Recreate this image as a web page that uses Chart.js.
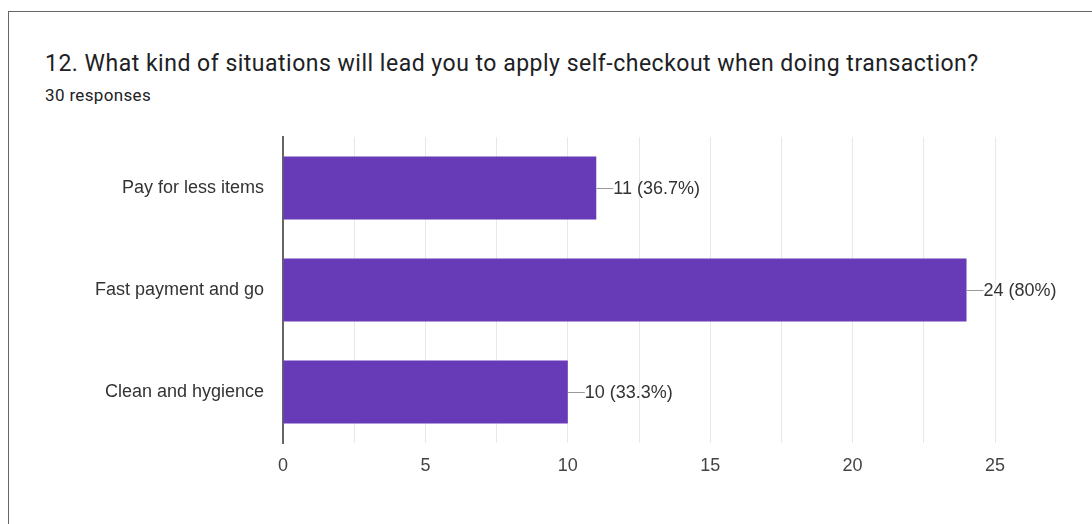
<!DOCTYPE html>
<html><head><meta charset="utf-8">
<script src="https://cdn.jsdelivr.net/npm/chart.js@4"></script>
<style>
html,body{margin:0;padding:0;background:#fff;width:1092px;height:524px;overflow:hidden;font-family:Roboto,sans-serif;}
#frame{position:absolute;left:8px;top:11px;width:1200px;height:600px;border-left:1.5px solid #666;border-top:1.5px solid #666;}
#title{position:absolute;left:45px;top:50px;font-size:23px;letter-spacing:0.5px;color:#202124;white-space:nowrap;}
#sub{position:absolute;left:45px;top:85px;font-size:17px;letter-spacing:0.35px;color:#202124;white-space:nowrap;}
#wrap{position:absolute;left:0;top:0;width:1092px;height:524px;}
</style></head><body>
<div id="frame"></div>
<div id="title">12. What kind of situations will lead you to apply self-checkout when doing transaction?</div>
<div id="sub">30 responses</div>
<div id="wrap"><canvas id="c" width="1092" height="524"></canvas></div>
<script>
const categories = ["Pay for less items", "Fast payment and go", "Clean and hygience"];
const counts = [11, 24, 10];
const percents = ["36.7%", "80%", "33.3%"];
const xTicks = [0, 5, 10, 15, 20, 25];
const FONT = '"Liberation Sans", Arial, sans-serif';

const labelPlugin = {
  id: 'barLabels',
  afterDatasetsDraw(chart) {
    const ctx = chart.ctx;
    const meta = chart.getDatasetMeta(0);
    ctx.save();
    meta.data.forEach((bar, i) => {
      const x = bar.x, y = bar.y;
      ctx.strokeStyle = '#999';
      ctx.lineWidth = 1;
      ctx.beginPath();
      ctx.moveTo(x, Math.round(y) + 0.5);
      ctx.lineTo(x + 17, Math.round(y) + 0.5);
      ctx.stroke();
      ctx.fillStyle = '#333';
      ctx.font = '18px ' + FONT;
      ctx.textBaseline = 'middle';
      ctx.textAlign = 'left';
      ctx.fillText(counts[i] + ' (' + percents[i] + ')', x + 17, y + 1);
    });
    ctx.restore();
  }
};

new Chart(document.getElementById('c'), {
  type: 'bar',
  data: {
    labels: categories,
    datasets: [{
      data: counts,
      backgroundColor: '#673ab7',
      borderWidth: 0,
      barPercentage: 0.62,
      categoryPercentage: 1.0
    }]
  },
  options: {
    indexAxis: 'y',
    responsive: false,
    animation: false,
    events: [],
    layout: { padding: { left: 0, right: 97, top: 137, bottom: 41 } },
    plugins: { legend: { display: false }, tooltip: { enabled: false } },
    scales: {
      x: {
        min: 0, max: 25,
        ticks: {
          stepSize: 2.5,
          autoSkip: false,
          maxRotation: 0,
          padding: 12,
          color: '#444',
          font: { family: FONT, size: 18 },
          callback: (v) => xTicks.includes(v) ? String(v) : ''
        },
        grid: { color: '#e8e8e8', drawTicks: false, lineWidth: 1 },
        border: { display: false },
        afterFit(s) { s.height = 40; }
      },
      y: {
        ticks: {
          padding: 19,
          color: '#333',
          font: { family: FONT, size: 18 }
        },
        grid: { display: false, drawTicks: false },
        border: { display: true, color: '#666', width: 2 },
        afterFit(s) { s.width = 283; }
      }
    }
  },
  plugins: [labelPlugin]
});
</script>
</body></html>
